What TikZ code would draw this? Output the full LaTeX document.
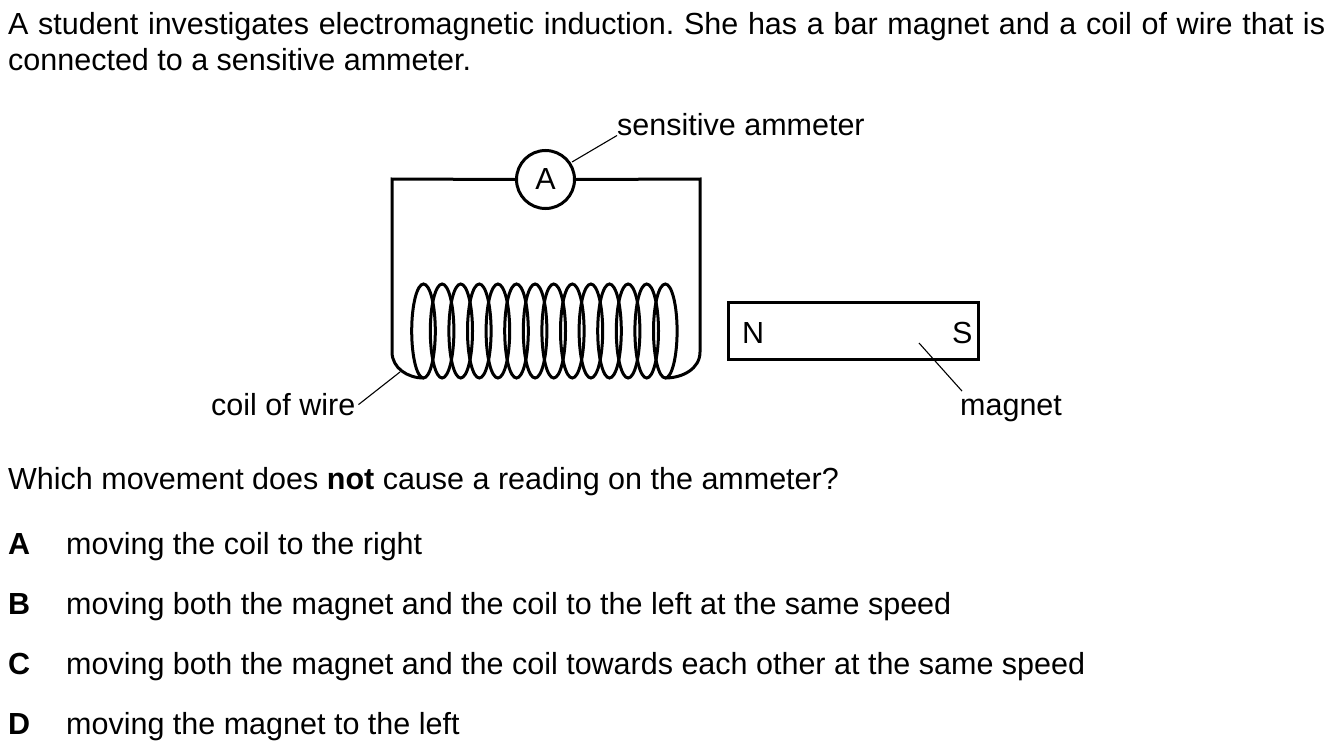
\documentclass[tikz,border=0pt]{standalone}
\usepackage{fontspec}
\setmainfont{Liberation Sans}
\frenchspacing
\begin{document}
\begin{tikzpicture}[x=1pt,y=-1pt,
    every node/.style={inner sep=0pt,font=\fontsize{30.5}{36}\selectfont},
    txt/.style={anchor=base west},
    wire/.style={line width=3pt},
    leader/.style={line width=1.1pt}]
  \useasboundingbox (0,0) rectangle (1338,752);

  \node[txt] (intro1) at (8,34.5) {\makebox[1317pt][s]{A student investigates electromagnetic induction. She has a bar magnet and a coil of wire that is}};
  \node[txt] (intro2) at (8,70.5) {connected to a sensitive ammeter.};

  % circuit with ammeter
  \coordinate (topleft) at (392,179);
  \coordinate (topright) at (700,179);
  \coordinate (botleft) at (392,352);
  \coordinate (botright) at (700,352);
  \coordinate (coilstart) at (423.5,378);
  \coordinate (coilend) at (665.3,378);
  \node[draw,circle,wire,minimum size=58pt] (amm) at (545.5,179.5) {A};

  \draw[wire] (amm.west) -- (topleft) -- (botleft) to[out=-90,in=180] (coilstart);
  \draw[wire] (amm.east) -- (topright) -- (botright) to[out=-90,in=0] (coilend);
  \foreach \k in {0,...,13}
    \draw[wire] ({423.5+18.6*\k},331) ellipse [x radius=11.8, y radius=47];

  % magnet
  \node[draw,wire,minimum width=250pt,minimum height=57pt] (magnet) at (853,331) {};
  \node[txt] (north) at (742,343) {N};
  \node[txt] (south) at (952,343) {S};

  % labels
  \node[txt] (lblamm) at (617,135.5) {sensitive ammeter};
  \node[txt] (lblcoil) at (211,415.5) {coil of wire};
  \node[txt] (lblmag) at (960,415.5) {magnet};
  \coordinate (ammtip) at (572,162);
  \coordinate (coiltip) at (400,372);
  \coordinate (magtip) at (919,343);
  \draw[leader] (ammtip) -- (lblamm.base west);
  \draw[leader] (coiltip) -- ([xshift=3pt]lblcoil.east);
  \draw[leader] (magtip) -- ([xshift=2pt,yshift=4.5pt]lblmag.north west);

  % question and options
  \node[txt] (which) at (8,489.5) {Which movement does \textbf{not} cause a reading on the ammeter?};
  \node[txt] (optA) at (8,554.5) {\textbf{A}};
  \node[txt] (ansA) at (66,554.5) {moving the coil to the right};
  \node[txt] (optB) at (8,614.5) {\textbf{B}};
  \node[txt] (ansB) at (66,614.5) {moving both the magnet and the coil to the left at the same speed};
  \node[txt] (optC) at (8,674.5) {\textbf{C}};
  \node[txt] (ansC) at (66,674.5) {moving both the magnet and the coil towards each other at the same speed};
  \node[txt] (optD) at (8,734.5) {\textbf{D}};
  \node[txt] (ansD) at (66,734.5) {moving the magnet to the left};
\end{tikzpicture}
\end{document}
